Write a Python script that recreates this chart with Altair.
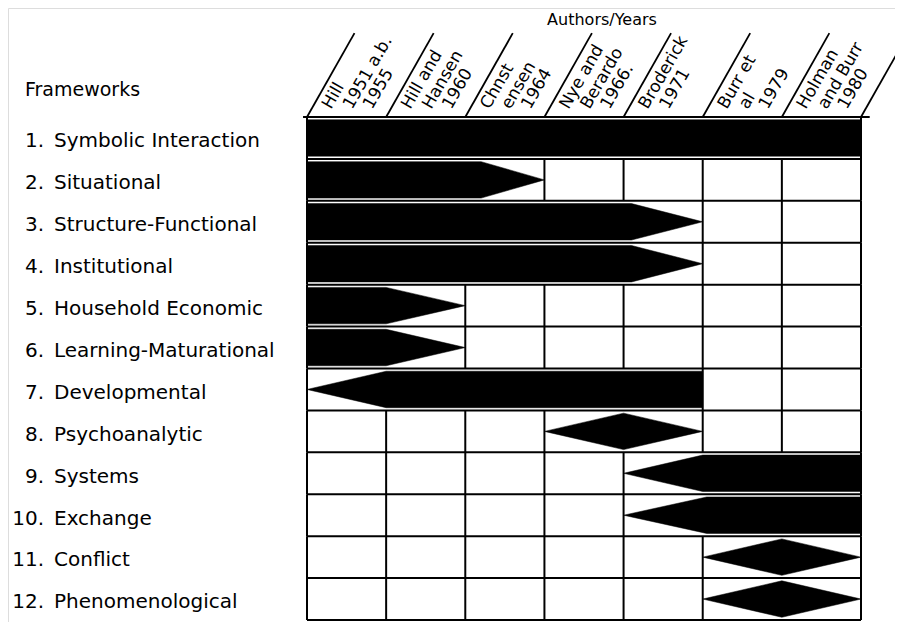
import altair as alt
import pandas as pd

# ---------------- data ----------------
frameworks = ["Symbolic Interaction", "Situational", "Structure-Functional", "Institutional",
              "Household Economic", "Learning-Maturational", "Developmental", "Psychoanalytic",
              "Systems", "Exchange", "Conflict", "Phenomenological"]
numbers = ["1.", "2.", "3.", "4.", "5.", "6.", "7.", "8.", "9.", "10.", "11.", "12."]
# column boundary (0..7) where each framework's band starts / ends
span_start = [0, 0, 0, 0, 0, 0, 0, 3, 4, 4, 5, 5]
span_end = [7, 3, 5, 5, 2, 2, 5, 5, 7, 7, 7, 7]
shapes = ["bar", "taper", "taper", "taper", "taper", "taper", "arrow", "diamond",
          "arrow", "arrow", "diamond", "diamond"]
authors = [["Hill", "1951 a.b.", "1955"],
           ["Hill and", "Hansen", "1960"],
           ["Chnst", "ensen", "1964"],
           ["Nye and", "Berardo", "1966."],
           ["Broderick", "1971"],
           ["Burr et", "al", "1979"],
           ["Holman", "and Burr", "1980"]]

# ---------------- style ----------------
taper_len = [0, 0.8, 0.9, 0.9, 1.0, 1.0, 1.0, 0, 1.0, 1.05, 0, 0]
INSET = 0.065
NCOL, NROW = 7, 12
COL_PX = 554 / 7
ROW_PX = 503 / 12
FONT = "DejaVu Sans"

xs = alt.Scale(domain=[0, NCOL], range=[299, 853])
ys = alt.Scale(domain=[0, NROW], range=[109, 612])

# polygon outline of each band: (x, y) points in drawing order
pts = []
for r, (fw, s, e, sh, L) in enumerate(zip(frameworks, span_start, span_end, shapes, taper_len)):
    t, b, m = r + INSET, r + 1 - INSET, r + 0.5
    if sh == "bar":
        v = [(s, t), (e, t), (e, b), (s, b)]
    elif sh == "taper":
        v = [(s, t), (e - L, t), (e, m), (e - L, b), (s, b)]
    elif sh == "arrow":
        v = [(s, m), (s + L, t), (e, t), (e, b), (s + L, b)]
    else:
        v = [(s, m), ((s + e) / 2, t), (e, m), ((s + e) / 2, b)]
    v = v + [v[0]]
    for i, (px, py) in enumerate(v):
        pts.append({"fw": fw, "px": px, "py": py, "k": i})
shape_df = pd.DataFrame(pts)

# grid
h_df = pd.DataFrame([{"y": r, "x0": (-0.05 if r == 0 else 0), "x1": (7.11 if r == 0 else 7)}
                     for r in range(NROW + 1)])
v_rows = []
for r in range(NROW):
    for bnd in range(NCOL + 1):
        if not (span_start[r] < bnd < span_end[r]):
            v_rows.append({"x": bnd, "y0": r, "y1": r + 1})
v_df = pd.DataFrame(v_rows)
d_df = pd.DataFrame([{"x0": bnd, "y0": 0, "x1": bnd + 0.6, "y1": -2.0} for bnd in range(NCOL + 1)])

# header text
hdr = []
offs = [24, 45, 65]
for c, lines in enumerate(authors):
    for i, txt in enumerate(lines):
        hdr.append({"x": c + offs[i] / COL_PX, "y": -7 / ROW_PX, "t": txt})
hdr_df = pd.DataFrame(hdr)

lab_df = pd.DataFrame({"num": numbers, "name": frameworks,
                       "y": [r + 0.58 for r in range(NROW)]})

noax = dict(axis=None)

hlines = alt.Chart(h_df).mark_rule(color="black", strokeWidth=2).encode(
    x=alt.X("x0:Q", scale=xs, **noax), x2="x1:Q", y=alt.Y("y:Q", scale=ys, **noax))
vlines = alt.Chart(v_df).mark_rule(color="black", strokeWidth=2).encode(
    x=alt.X("x:Q", scale=xs, **noax), y=alt.Y("y0:Q", scale=ys, **noax), y2="y1:Q")
diags = alt.Chart(d_df).mark_rule(color="black", strokeWidth=1.8).encode(
    x=alt.X("x0:Q", scale=xs, **noax), x2="x1:Q",
    y=alt.Y("y0:Q", scale=ys, **noax), y2="y1:Q")
bands = alt.Chart(shape_df).mark_line(fill="black", stroke="black", strokeWidth=0.5,
                                      interpolate="linear").encode(
    x=alt.X("px:Q", scale=xs, **noax), y=alt.Y("py:Q", scale=ys, **noax),
    detail="fw:N", order="k:Q")
htext = alt.Chart(hdr_df).mark_text(angle=300, align="left", baseline="alphabetic",
                                    font=FONT, fontSize=17, color="black").encode(
    x=alt.X("x:Q", scale=xs, **noax), y=alt.Y("y:Q", scale=ys, **noax), text="t:N")
nums = alt.Chart(lab_df).mark_text(align="right", baseline="middle", font=FONT, fontSize=20,
                                   color="black").encode(
    x=alt.value(36), y=alt.Y("y:Q", scale=ys, **noax), text="num:N")
names = alt.Chart(lab_df).mark_text(align="left", baseline="middle", font=FONT, fontSize=20,
                                    color="black").encode(
    x=alt.value(46), y=alt.Y("y:Q", scale=ys, **noax), text="name:N")
fw_title = alt.Chart(pd.DataFrame({"t": ["Frameworks"]})).mark_text(
    align="left", baseline="middle", font=FONT, fontSize=19, color="black").encode(
    x=alt.value(17), y=alt.value(82), text="t:N")
top_title = alt.Chart(pd.DataFrame({"t": ["Authors/Years"]})).mark_text(
    align="center", baseline="middle", font=FONT, fontSize=16, color="black").encode(
    x=alt.value(594), y=alt.value(12), text="t:N")

chart = alt.layer(hlines, vlines, diags, bands, htext, nums, names, fw_title, top_title).properties(
    width=887, height=614, padding=0, autosize="none"
).configure_view(stroke=None).configure(background="white")

chart.save("out.html", embed_options={"renderer": "svg", "actions": False})
